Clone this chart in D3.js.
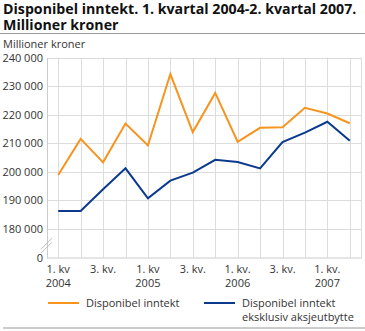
<!DOCTYPE html>
<html>
<head>
<meta charset="utf-8">
<script src="https://cdn.jsdelivr.net/npm/d3@7"></script>
<style>
  body { margin: 0; background: #fff; }
  text { font-family: "Open Sans", sans-serif; }
</style>
</head>
<body>
<svg id="chart" width="365" height="331"></svg>
<script>
// quarters 2004 Q1 .. 2007 Q2
const quarters = ['2004K1','2004K2','2004K3','2004K4','2005K1','2005K2','2005K3','2005K4',
                  '2006K1','2006K2','2006K3','2006K4','2007K1','2007K2'];
const disponibel = [198900, 211500, 203300, 216900, 209200, 234200, 213900, 227600,
                    210500, 215400, 215600, 222400, 220400, 217000];
const eksklusiv = [186300, 186300, 193900, 201200, 190700, 196900, 199700, 204200,
                   203400, 201200, 210400, 213700, 217500, 210900];
const xTickLabels = [['1. kv', '2004'], ['3. kv.'], ['1. kv', '2005'], ['3. kv.'],
                     ['1. kv.', '2006'], ['3. kv.'], ['1. kv.', '2007']];
const yTicks = [170000, 180000, 190000, 200000, 210000, 220000, 230000, 240000];
const seriesNames = [['Disponibel inntekt'], ['Disponibel inntekt', 'eksklusiv aksjeutbytte']];
const colors = ['#f7941e', '#0b3a8c'];

const svg = d3.select('#chart');
const mLeft = 47, mRight = 361, mTop = 57.5, mBottom = 257.5;

// title
const title = svg.append('text').attr('font-weight', 'bold').attr('font-size', 14.2).attr('fill', '#111');
['Disponibel inntekt. 1. kvartal 2004-2. kvartal 2007.', 'Millioner kroner'].forEach((s, j) =>
  title.append('tspan').attr('x', 3).attr('y', j ? 29.5 : 14).text(s));
svg.append('line').attr('x1', 0).attr('x2', 365).attr('y1', 33.5).attr('y2', 33.5)
  .attr('stroke', '#999').attr('stroke-width', 1);

svg.append('text').attr('x', 3).attr('y', 48).attr('font-size', 11).attr('fill', '#333')
  .text('Millioner kroner');

const x = d3.scalePoint().domain(quarters).range([mLeft, mRight]).padding(0.5);
// lowest tick is drawn as a broken axis "0"
const y = d3.scaleLinear().domain([170000, 240000]).range([mBottom, mTop]);
const fmt = v => v === 170000 ? '0' : d3.format(',')(v).replace(/,/g, ' ');

// grid
const grid = svg.append('g').attr('stroke', '#dcdcdc').attr('stroke-width', 1);
grid.selectAll('line.h').data(yTicks.slice(1)).join('line')
  .attr('x1', mLeft).attr('x2', mRight)
  .attr('y1', d => Math.round(y(d)) + 0.5).attr('y2', d => Math.round(y(d)) + 0.5);
grid.selectAll('line.v').data(quarters).join('line')
  .attr('x1', d => Math.round(x(d)) + 0.5).attr('x2', d => Math.round(x(d)) + 0.5)
  .attr('y1', mTop).attr('y2', mBottom);
grid.append('line').attr('x1', mRight + 0.5).attr('x2', mRight + 0.5).attr('y1', mTop).attr('y2', mBottom);

// axes
const yAxis = svg.append('g').attr('transform', `translate(${mLeft},0)`)
  .call(d3.axisLeft(y).tickValues(yTicks).tickFormat(fmt).tickSize(0).tickPadding(4));
yAxis.select('.domain').attr('stroke', '#ccc');
yAxis.selectAll('text').attr('font-size', 11).attr('fill', '#333')
  .attr('font-family', '"Open Sans", sans-serif');
svg.append('line').attr('x1', mLeft).attr('x2', mRight + 1)
  .attr('y1', mBottom + 0.5).attr('y2', mBottom + 0.5).attr('stroke', '#ccc');

// axis break marks
const brk = svg.append('g').attr('stroke', '#bbb').attr('stroke-width', 1);
[0, 4].forEach(o => brk.append('line')
  .attr('x1', mLeft - 6).attr('y1', y(175000) + 6 + o)
  .attr('x2', mLeft + 5).attr('y2', y(175000) - 5 + o));

// x labels
const xl = svg.append('g').attr('font-size', 11).attr('fill', '#333').attr('text-anchor', 'middle');
xTickLabels.forEach((lines, i) => {
  const t = xl.append('text').attr('x', x(quarters[i * 2])).attr('y', 273);
  lines.forEach((s, j) => t.append('tspan').attr('x', x(quarters[i * 2])).attr('dy', j ? 14 : 0).text(s));
});

// lines
const line = d3.line().x((d, i) => x(quarters[i])).y(d => y(d));
[disponibel, eksklusiv].forEach((s, k) => {
  svg.append('path').datum(s).attr('d', line)
    .attr('fill', 'none').attr('stroke', colors[k]).attr('stroke-width', 2)
    .attr('stroke-linejoin', 'miter');
});

// legend
const legend = svg.append('g').attr('font-size', 11).attr('fill', '#333');
const legX = [48, 204];
seriesNames.forEach((parts, k) => {
  legend.append('line').attr('x1', legX[k]).attr('x2', legX[k] + 31)
    .attr('y1', 303).attr('y2', 303).attr('stroke', colors[k]).attr('stroke-width', 2);
  const t = legend.append('text').attr('x', legX[k] + 38).attr('y', 307);
  parts.forEach((s, j) => t.append('tspan').attr('x', legX[k] + 38).attr('dy', j ? 14 : 0).text(s));
});

svg.append('line').attr('x1', 3).attr('x2', 365).attr('y1', 328).attr('y2', 328)
  .attr('stroke', '#ccc').attr('stroke-width', 2);
</script>
</body>
</html>
